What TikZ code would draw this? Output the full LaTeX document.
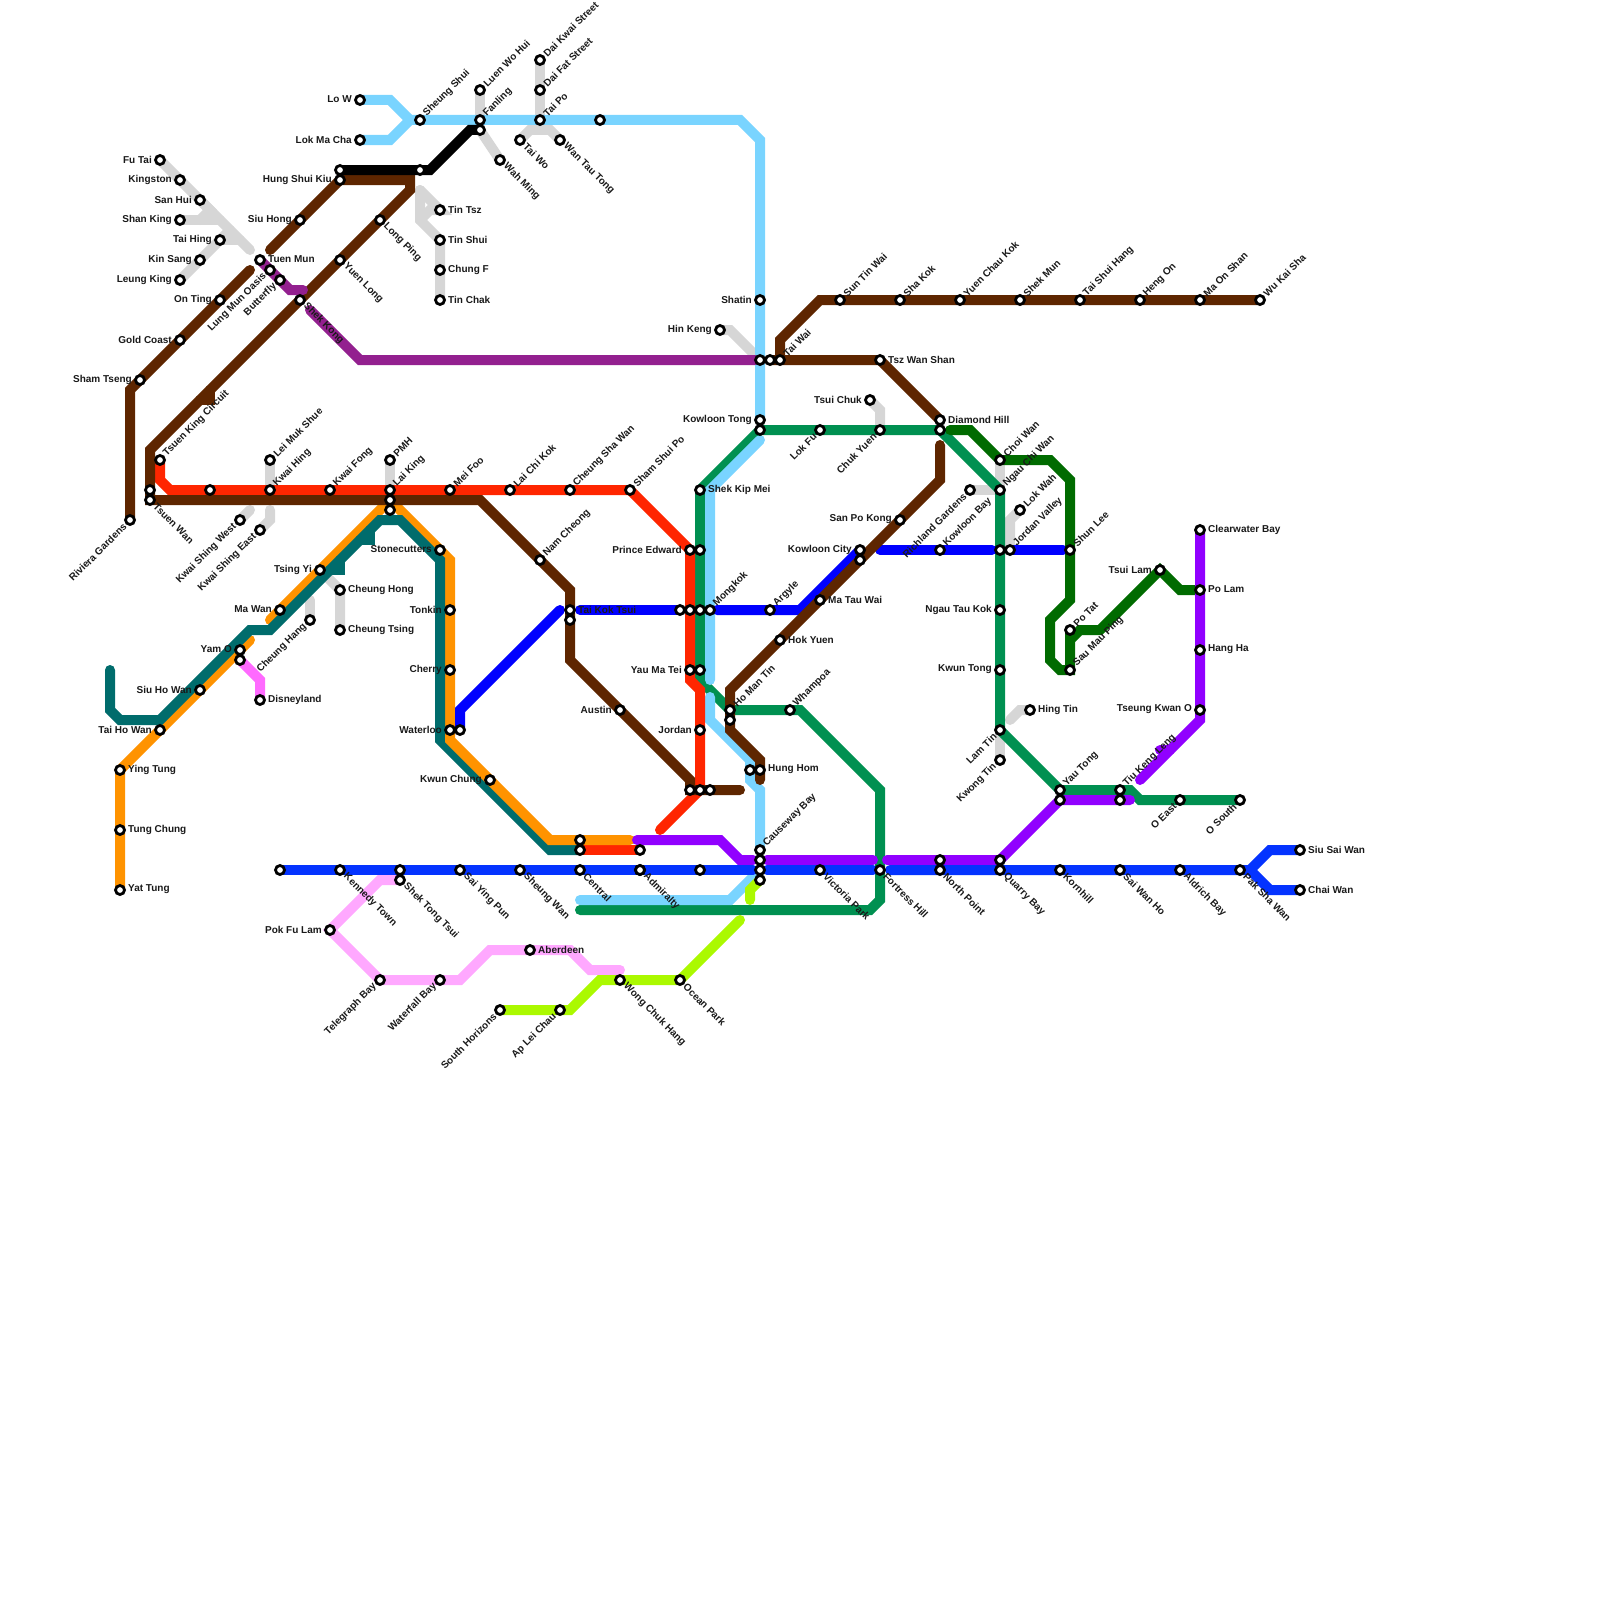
\documentclass[tikz,border=0pt]{standalone}
\usepackage{fontspec}
\setmainfont{Liberation Sans}
\usepackage{tikz}
\pgfdeclarelayer{stops}
\pgfsetlayers{main,stops}
\definecolor{lightblue}{HTML}{79D4FF}
\definecolor{tuenbrown}{HTML}{5E2600}
\definecolor{plum}{HTML}{93208F}
\definecolor{redline}{HTML}{FF2600}
\definecolor{kwungreen}{HTML}{009051}
\definecolor{darkgreen}{HTML}{006B00}
\definecolor{pureblue}{HTML}{0000FF}
\definecolor{islandblue}{HTML}{0433FF}
\definecolor{violet}{HTML}{9100FF}
\definecolor{teal}{HTML}{006C6C}
\definecolor{tangerine}{HTML}{FF9300}
\definecolor{magentapink}{HTML}{FF6AFF}
\definecolor{softpink}{HTML}{FFA8FF}
\definecolor{lime}{HTML}{ABF900}
\definecolor{lrtgray}{HTML}{D6D6D6}
\tikzset{
  line/.style={line width=10pt,line cap=round,line join=miter},
  stn/.style={circle,draw=black,fill=white,line width=2.8pt,inner sep=0pt,outer sep=0pt,minimum size=9pt},
  lbl/.style={font=\fontsize{10}{10}\selectfont\bfseries,inner sep=0pt,text=black!90},
  lblE/.style={lbl,xshift=8pt,yshift=0.5pt,anchor=west},
  lblW/.style={lbl,xshift=-8pt,yshift=0.5pt,anchor=east},
  lblNE/.style={lbl,xshift=5pt,yshift=5pt,rotate=45,anchor=west},
  lblSE/.style={lbl,xshift=5pt,yshift=-5pt,rotate=-45,anchor=west},
  lblSW/.style={lbl,xshift=-5pt,yshift=-5pt,rotate=45,anchor=east}
}
\begin{document}
\begin{tikzpicture}[x=1pt,y=-1pt]
\useasboundingbox (0,0) rectangle (1600,1600);
% stops with a name
\foreach \nm/\x/\y/\side/\txt in {
  fuTai/160/160/lblW/Fu Tai, kingston/180/180/lblW/Kingston, sanHui/200/200/lblW/San Hui,
  shanKing/180/220/lblW/Shan King, taiHing/220/240/lblW/Tai Hing, kinSang/200/260/lblW/Kin Sang,
  leungKing/180/280/lblW/Leung King, onTing/220/300/lblW/On Ting, goldCoast/180/340/lblW/Gold Coast,
  shamTseng/140/380/lblW/Sham Tseng, loW/360/100/lblW/Lo W, lokMaCha/360/140/lblW/Lok Ma Cha,
  hungShuiKiu/340/180/lblW/Hung Shui Kiu, siuHong/300/220/lblW/Siu Hong, tsingYi/320/570/lblW/Tsing Yi,
  maWan/280/610/lblW/Ma Wan, yamO/240/650/lblW/Yam O, siuHoWan/200/690/lblW/Siu Ho Wan,
  taiHoWan/160/730/lblW/Tai Ho Wan, stonecutters/440/550/lblW/Stonecutters, tonkin/450/610/lblW/Tonkin,
  cherry/450/670/lblW/Cherry, waterloo/450/730/lblW/Waterloo, kwunChung/490/780/lblW/Kwun Chung,
  pokFuLam/330/930/lblW/Pok Fu Lam, princeEdward/690/550/lblW/Prince Edward, yauMaTei/690/670/lblW/Yau Ma Tei,
  jordan/700/730/lblW/Jordan, austin/620/710/lblW/Austin, shatin/760/300/lblW/Shatin,
  hinKeng/720/330/lblW/Hin Keng, kowloonTong/760/420/lblW/Kowloon Tong, tsuiChuk/870/400/lblW/Tsui Chuk,
  sanPoKong/900/520/lblW/San Po Kong, kowloonCity/860/550/lblW/Kowloon City, ngauTauKok/1000/610/lblW/Ngau Tau Kok,
  kwunTong/1000/670/lblW/Kwun Tong, tsuiLam/1160/570/lblW/Tsui Lam, tseungKwanO/1200/710/lblW/Tseung Kwan O,
  tinTsz/440/210/lblE/Tin Tsz, tinShui/440/240/lblE/Tin Shui, chungF/440/270/lblE/Chung F,
  tinChak/440/300/lblE/Tin Chak, tuenMun/260/260/lblE/Tuen Mun, cheungHong/340/590/lblE/Cheung Hong,
  cheungTsing/340/630/lblE/Cheung Tsing, disneyland/260/700/lblE/Disneyland, yingTung/120/770/lblE/Ying Tung,
  tungChung/120/830/lblE/Tung Chung, yatTung/120/890/lblE/Yat Tung, aberdeen/530/950/lblE/Aberdeen,
  shekKipMei/700/490/lblE/Shek Kip Mei, hokYuen/780/640/lblE/Hok Yuen, maTauWai/820/600/lblE/Ma Tau Wai,
  hungHom/760/770/lblE/Hung Hom, tszWanShan/880/360/lblE/Tsz Wan Shan, diamondHill/940/420/lblE/Diamond Hill,
  hingTin/1030/710/lblE/Hing Tin, clearwaterBay/1200/530/lblE/Clearwater Bay, poLam/1200/590/lblE/Po Lam,
  hangHa/1200/650/lblE/Hang Ha, siuSaiWan/1300/850/lblE/Siu Sai Wan, chaiWan/1300/890/lblE/Chai Wan,
  taiKokTsui/570/610/lblE/Tai Kok Tsui,
  sheungShui/420/120/lblNE/Sheung Shui, luenWoHui/480/90/lblNE/Luen Wo Hui, fanling/480/120/lblNE/Fanling,
  daiKwai/540/60/lblNE/Dai Kwai Street, daiFat/540/90/lblNE/Dai Fat Street, taiPo/540/120/lblNE/Tai Po,
  tsuenKing/160/460/lblNE/Tsuen King Circuit, leiMukShue/270/460/lblNE/Lei Muk Shue, kwaiHing/270/490/lblNE/Kwai Hing,
  kwaiFong/330/490/lblNE/Kwai Fong, pmh/390/460/lblNE/PMH, laiKing/390/490/lblNE/Lai King,
  meiFoo/450/490/lblNE/Mei Foo, laiChiKok/510/490/lblNE/Lai Chi Kok, cheungShaWan/570/490/lblNE/Cheung Sha Wan,
  shamShuiPo/630/490/lblNE/Sham Shui Po, namCheong/540/560/lblNE/Nam Cheong, mongkok/710/610/lblNE/Mongkok,
  argyle/770/610/lblNE/Argyle, hoManTin/730/710/lblNE/Ho Man Tin, whampoa/790/710/lblNE/Whampoa,
  causewayBay/760/850/lblNE/Causeway Bay, taiWai/780/360/lblNE/Tai Wai, sunTinWai/840/300/lblNE/Sun Tin Wai,
  shaKok/900/300/lblNE/Sha Kok, yuenChauKok/960/300/lblNE/Yuen Chau Kok, shekMun/1020/300/lblNE/Shek Mun,
  taiShuiHang/1080/300/lblNE/Tai Shui Hang, hengOn/1140/300/lblNE/Heng On, maOnShan/1200/300/lblNE/Ma On Shan,
  wuKaiSha/1260/300/lblNE/Wu Kai Sha, choiWan/1000/460/lblNE/Choi Wan, ngauChiWan/1000/490/lblNE/Ngau Chi Wan,
  lokWah/1020/510/lblNE/Lok Wah, jordanValley/1010/550/lblNE/Jordan Valley, kowloonBay/940/550/lblNE/Kowloon Bay,
  shunLee/1070/550/lblNE/Shun Lee, poTat/1070/630/lblNE/Po Tat, sauMauPing/1070/670/lblNE/Sau Mau Ping,
  yauTong/1060/790/lblNE/Yau Tong, tiuKengLeng/1120/790/lblNE/Tiu Keng Leng,
  longPing/380/220/lblSE/Long Ping, yuenLong/340/260/lblSE/Yuen Long, shekKong/300/300/lblSE/Shek Kong,
  tsuenWan/150/500/lblSE/Tsuen Wan, taiWo/520/140/lblSE/Tai Wo, wanTauTong/560/140/lblSE/Wan Tau Tong,
  wahMing/500/160/lblSE/Wah Ming, kennedyTown/340/870/lblSE/Kennedy Town, shekTongTsui/400/880/lblSE/Shek Tong Tsui,
  saiYingPun/460/870/lblSE/Sai Ying Pun, sheungWan/520/870/lblSE/Sheung Wan, central/580/870/lblSE/Central,
  admiralty/640/870/lblSE/Admiralty, wongChukHang/620/980/lblSE/Wong Chuk Hang, oceanPark/680/980/lblSE/Ocean Park,
  victoriaPark/820/870/lblSE/Victoria Park, fortressHill/880/870/lblSE/Fortress Hill, northPoint/940/870/lblSE/North Point,
  quarryBay/1000/870/lblSE/Quarry Bay, kornhill/1060/870/lblSE/Kornhill, saiWanHo/1120/870/lblSE/Sai Wan Ho,
  aldrichBay/1180/870/lblSE/Aldrich Bay, pakShaWan/1240/870/lblSE/Pak Sha Wan,
  rivieraGardens/130/520/lblSW/Riviera Gardens, lungMunOasis/270/270/lblSW/Lung Mun Oasis, butterfly/280/280/lblSW/Butterfly,
  kwaiShingWest/240/520/lblSW/Kwai Shing West, kwaiShingEast/260/530/lblSW/Kwai Shing East, cheungHang/310/620/lblSW/Cheung Hang,
  telegraphBay/380/980/lblSW/Telegraph Bay, waterfallBay/440/980/lblSW/Waterfall Bay, southHorizons/500/1010/lblSW/South Horizons,
  apLeiChau/560/1010/lblSW/Ap Lei Chau, lokFu/820/430/lblSW/Lok Fu, chukYuen/880/430/lblSW/Chuk Yuen,
  richlandGardens/970/490/lblSW/Richland Gardens, lamTin/1000/730/lblSW/Lam Tin, kwongTin/1000/760/lblSW/Kwong Tin,
  oEast/1180/800/lblSW/O East, oSouth/1240/800/lblSW/O South}
{
  \coordinate (\nm) at (\x,\y);
  \begin{pgfonlayer}{stops}
    \node[stn] (\nm-stn) at (\nm) {};
    \node[\side] (\nm-txt) at (\nm) {\txt};
  \end{pgfonlayer}
}
% stops with no text
\foreach \nm/\x/\y in {
  xA/340/170, xB/420/170, xC/480/130, xD/600/120, xE/150/490, xF/210/490, xG/390/500, xH/390/510,
  xI/570/620, xJ/680/610, xK/690/610, xL/700/610, xM/700/550, xN/700/670, xO/690/790, xP/700/790,
  xQ/710/790, xR/730/720, xS/750/770, xT/760/360, xU/770/360, xV/760/430, xW/940/430, xX/860/560,
  xY/1000/550, xZ/240/660, yA/460/730, yB/580/840, yC/580/850, yD/640/850, yE/640/870, yF/700/870,
  yG/760/860, yH/760/870, yI/760/880, yJ/280/870, yK/400/870, yL/940/860, yM/1000/860, yN/1060/800,
  yO/1120/800}
{
  \coordinate (\nm) at (\x,\y);
  \begin{pgfonlayer}{stops}
    \node[stn] (\nm-stn) at (\nm) {};
  \end{pgfonlayer}
}
% light rail and feeders
\draw[line,lrtgray] (fuTai) -- (kingston) -- (sanHui) -- (250,250);
\draw[line,lrtgray] (sanHui) -- (210,210) -- (200,220);
\draw[line,lrtgray] (shanKing) -- (220,220);
\draw[line,lrtgray] (leungKing) -- (kinSang) -- (230,230);
\draw[line,lrtgray] (taiHing) -- (240,240);
\draw[line,lrtgray] (420,190) -- (tinTsz) -- (430,210) -- (420,220);
\draw[line,lrtgray] (420,190) -- (420,220) -- (tinShui) -- (chungF) -- (tinChak);
\draw[line,lrtgray] (luenWoHui) -- (fanling);
\draw[line,lrtgray] (xC) -- (wahMing);
\draw[line,lrtgray] (daiKwai) -- (daiFat) -- (taiPo);
\draw[line,lrtgray] (taiWo) -- (530,130) -- (550,130) -- (wanTauTong);
\draw[line,lrtgray] (hinKeng) -- (730,330) -- (755,355);
\draw[line,lrtgray] (leiMukShue) -- (kwaiHing);
\draw[line,lrtgray] (pmh) -- (laiKing);
\draw[line,lrtgray] (kwaiShingWest) -- (250,510);
\draw[line,lrtgray] (kwaiShingEast) -- (270,520) -- (270,510);
\draw[line,lrtgray] (cheungHang) -- (310,600);
\draw[line,lrtgray] (tsingYi) -- (cheungHong) -- (cheungTsing);
\draw[line,lrtgray] (tsuiChuk) -- (880,410) -- (chukYuen);
\draw[line,lrtgray] (choiWan) -- (ngauChiWan) -- (richlandGardens);
\draw[line,lrtgray] (lokWah) -- (1010,520) -- (jordanValley);
\draw[line,lrtgray] (lamTin) -- (kwongTin);
\draw[line,lrtgray] (1010,720) -- (1020,710) -- (hingTin);
% airport and tung chung
\draw[line,tangerine] (yatTung) -- (tungChung) -- (yingTung) -- (250,640);
\draw[line,tangerine] (270,620) -- (390,500) -- (450,560) -- (waterloo);
% kwun tong
\draw[line,kwungreen] (xV) -- (xW) -- (ngauChiWan) -- (lamTin) -- (yauTong) -- (1130,790) -- (1140,800) -- (oSouth);
\draw[line,kwungreen] (xV) -- (shekKipMei) -- (700,680) -- (hoManTin) -- (whampoa) -- (800,710) -- (880,790) -- (880,900) -- (870,910) -- (580,910);
% east rail
\draw[line,lightblue] (loW) -- (390,100) -- (410,120);
\draw[line,lightblue] (lokMaCha) -- (390,140) -- (410,120);
\draw[line,lightblue] (410,120) -- (sheungShui) -- (xD) -- (740,120) -- (760,140) -- (shatin) -- (kowloonTong);
\draw[line,lightblue] (760,440) -- (710,490) -- (710,680);
\draw[line,lightblue] (710,697) -- (710,720) -- (750,760) -- (750,780) -- (760,790) -- (causewayBay);
\draw[line,lightblue] (yH) -- (730,900) -- (580,900);
% tsuen wan
\draw[line,redline] (tsuenKing) -- (160,480) -- (170,490) -- (shamShuiPo) -- (princeEdward) -- (690,680) -- (700,690) -- (xP) -- (660,830);
\draw[line,redline] (yC) -- (yD);
% west side
\draw[line,teal] (110,670) -- (110,710) -- (120,720) -- (160,720) -- (250,630) -- (270,630) -- (380,520) -- (400,520) -- (440,560) -- (440,740) -- (550,850) -- (yC);
\draw[line,teal] (340,560) -- (340,570) -- (330,570);
\draw[line,teal] (370,530) -- (370,540) -- (360,540);
\draw[line,tangerine] (waterloo) -- (450,740) -- (550,840) -- (630,840);
% tseung kwan o and sha tin links
\draw[line,pureblue] (560,610) -- (460,710) -- (yA);
\draw[line,pureblue] (580,610) -- (680,610);
\draw[line,pureblue] (717,610) -- (800,610) -- (kowloonCity);
\draw[line,pureblue] (880,550) -- (992,550);
\draw[line,pureblue] (jordanValley) -- (1063,550);
% ma on shan and west rail
\draw[line,tuenbrown] (250,270) -- (130,390) -- (rivieraGardens);
\draw[line,tuenbrown] (270,250) -- (hungShuiKiu) -- (410,180) -- (410,190) -- (150,450) -- (tsuenWan) -- (480,500) -- (570,590) -- (570,660) -- (690,780) -- (xO) -- (xQ) -- (740,790);
\draw[line,tuenbrown] (210,390) -- (210,400) -- (200,400);
\draw[line,tuenbrown] (xU) -- (tszWanShan) -- (940,420);
\draw[line,tuenbrown] (940,445) -- (940,480) -- (730,690) -- (730,730) -- (760,760) -- (760,780);
\draw[line,tuenbrown] (taiWai) -- (780,340) -- (820,300) -- (wuKaiSha);
\draw[line,tuenbrown] (taiWai) -- (xU);
% others
\draw[line,plum] (tuenMun) -- (290,290) -- (303,290);
\draw[line,plum] (310,310) -- (360,360) -- (755,360);
\draw[line,black] (xA) -- (xB) -- (430,170) -- (470,130) -- (xC);
\draw[line,darkgreen] (950,430) -- (970,430) -- (choiWan) -- (1050,460) -- (1070,480) -- (1070,600) -- (1050,620) -- (1050,660) -- (1060,670) -- (sauMauPing) -- (1070,640) -- (1080,630) -- (1100,630) -- (tsuiLam) -- (1180,590) -- (poLam);
\draw[line,darkgreen] (poTat) -- (1070,640);
\draw[line,violet] (clearwaterBay) -- (tseungKwanO) -- (1200,720) -- (1140,780);
\draw[line,violet] (1160,750) -- (1170,750);
\draw[line,violet] (1130,800) -- (yN) -- (yM) -- (887,860);
\draw[line,violet] (767,860) -- (873,860);
\draw[line,violet] (637,840) -- (720,840) -- (740,860) -- (753,860);
\draw[line,islandblue] (yJ) -- (753,870);
\draw[line,islandblue] (767,870) -- (873,870);
\draw[line,islandblue] (890,870) -- (1250,870) -- (1270,850) -- (siuSaiWan);
\draw[line,islandblue] (1250,870) -- (1270,890) -- (chaiWan);
\draw[line,magentapink] (xZ) -- (260,680) -- (disneyland);
\draw[line,softpink] (shekTongTsui) -- (380,880) -- (pokFuLam) -- (telegraphBay) -- (460,980) -- (490,950) -- (570,950) -- (590,970) -- (620,970);
\draw[line,lime] (southHorizons) -- (570,1010) -- (600,980) -- (oceanPark) -- (740,920);
\draw[line,lime] (750,900) -- (750,890) -- (yI);
\end{tikzpicture}
\end{document}
